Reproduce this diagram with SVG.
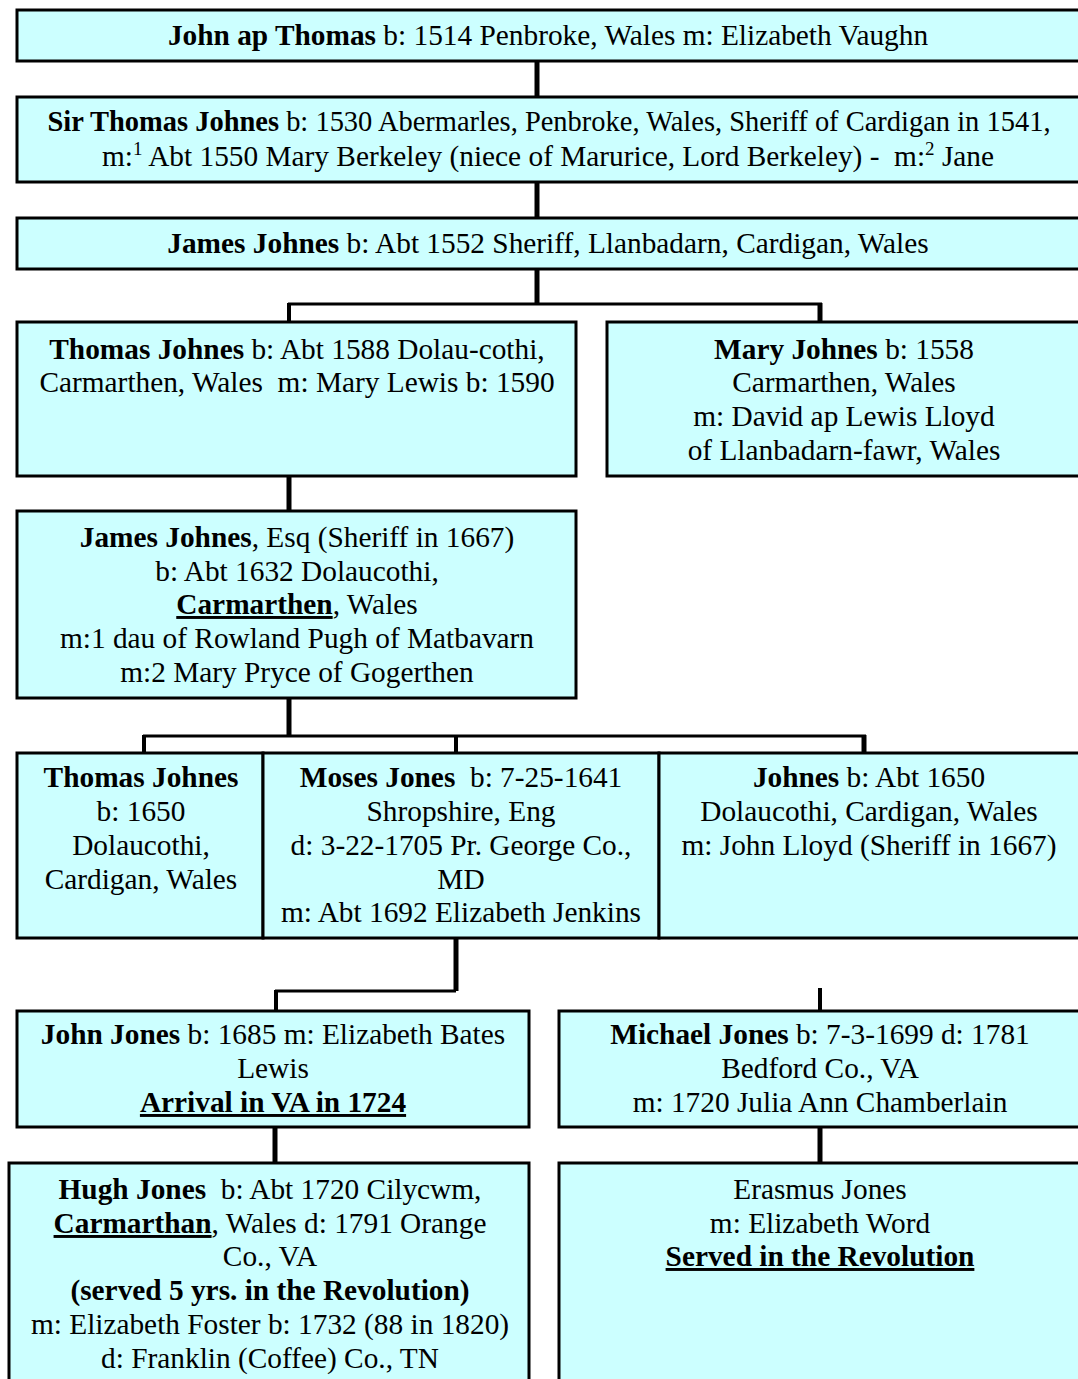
<svg xmlns="http://www.w3.org/2000/svg" width="1078" height="1379" viewBox="0 0 1078 1379">
<style>
.box{fill:#CCFFFF;stroke:#000;stroke-width:3}
text{font-family:"Liberation Serif","Times New Roman",serif;font-size:29.33px;fill:#000;text-anchor:middle}
.b{font-weight:bold}
.u{text-decoration:underline}
.c{fill:none;stroke:#000;stroke-linecap:butt;stroke-linejoin:miter}
.v{stroke-width:5}
.h{stroke-width:3}
.d{stroke-width:4}
</style>
<rect width="1078" height="1379" fill="#fff"/>
<g id="connectors">
<line class="c v" x1="537" y1="61" x2="537" y2="97"/>
<line class="c v" x1="537" y1="182" x2="537" y2="218"/>
<path class="c h" d="M288 304 H822"/>
<line class="c v" x1="537" y1="269" x2="537" y2="305"/>
<line class="c d" x1="289" y1="303" x2="289" y2="322"/>
<line class="c v" x1="820" y1="303" x2="820" y2="322"/>
<line class="c v" x1="289" y1="476" x2="289" y2="511"/>
<line class="c v" x1="289" y1="698" x2="289" y2="736"/>
<path class="c h" d="M143 736 H866"/>
<line class="c d" x1="144" y1="735" x2="144" y2="753"/>
<line class="c d" x1="456" y1="735" x2="456" y2="753"/>
<line class="c v" x1="864" y1="735" x2="864" y2="753"/>
<path class="c v" d="M456 938 V991"/>
<path class="c h" d="M456 991 H275"/>
<line class="c d" x1="276" y1="990" x2="276" y2="1011"/>
<line class="c d" x1="820" y1="988" x2="820" y2="1011"/>
<line class="c v" x1="275" y1="1127" x2="275" y2="1163"/>
<line class="c v" x1="820" y1="1127" x2="820" y2="1163"/>
</g>
<g id="john-ap-thomas">
<rect class="box" x="17" y="10" width="1064" height="51"/>
<text x="548" y="45"><tspan class="b">John ap Thomas</tspan> b: 1514 Penbroke, Wales m: Elizabeth Vaughn</text>
</g>
<g id="sir-thomas-johnes">
<rect class="box" x="17" y="97" width="1064" height="85"/>
<text x="549" y="131" textLength="1003" lengthAdjust="spacingAndGlyphs"><tspan class="b">Sir Thomas Johnes</tspan> b: 1530 Abermarles, Penbroke, Wales, Sheriff of Cardigan in 1541,</text>
<text x="548" y="166" xml:space="preserve">m:<tspan dy="-11" font-size="19">1</tspan><tspan dy="11"> Abt 1550 Mary Berkeley (niece of Marurice, Lord Berkeley) -  m:</tspan><tspan dy="-11" font-size="19">2</tspan><tspan dy="11"> Jane</tspan></text>
</g>
<g id="james-johnes">
<rect class="box" x="17" y="218" width="1064" height="51"/>
<text x="548" y="253"><tspan class="b">James Johnes</tspan> b: Abt 1552 Sheriff, Llanbadarn, Cardigan, Wales</text>
</g>
<g id="thomas-johnes-1588">
<rect class="box" x="17" y="322" width="559" height="154"/>
<text x="297" y="359"><tspan class="b">Thomas Johnes</tspan> b: Abt 1588 Dolau-cothi,</text>
<text x="297" y="392" xml:space="preserve">Carmarthen, Wales  m: Mary Lewis b: 1590</text>
</g>
<g id="mary-johnes">
<rect class="box" x="607" y="322" width="474" height="154"/>
<text x="844" y="359"><tspan class="b">Mary Johnes</tspan> b: 1558</text>
<text x="844" y="392">Carmarthen, Wales</text>
<text x="844" y="426">m: David ap Lewis Lloyd</text>
<text x="844" y="460">of Llanbadarn-fawr, Wales</text>
</g>
<g id="james-johnes-esq">
<rect class="box" x="17" y="511" width="559" height="187"/>
<text x="297" y="547"><tspan class="b">James Johnes</tspan>, Esq (Sheriff in 1667)</text>
<text x="297" y="581">b: Abt 1632 Dolaucothi,</text>
<text x="297" y="614"><tspan class="b u">Carmarthen</tspan>, Wales</text>
<text x="297" y="648">m:1 dau of Rowland Pugh of Matbavarn</text>
<text x="297" y="682">m:2 Mary Pryce of Gogerthen</text>
</g>
<g id="thomas-johnes-1650">
<rect class="box" x="17" y="753" width="246" height="185"/>
<text x="141" y="787" class="b">Thomas Johnes</text>
<text x="141" y="821">b: 1650</text>
<text x="141" y="855">Dolaucothi,</text>
<text x="141" y="889">Cardigan, Wales</text>
</g>
<g id="moses-jones">
<rect class="box" x="263" y="753" width="396" height="185"/>
<text x="461" y="787" xml:space="preserve"><tspan class="b">Moses Jones</tspan>  b: 7-25-1641</text>
<text x="461" y="821">Shropshire, Eng</text>
<text x="461" y="855">d: 3-22-1705 Pr. George Co.,</text>
<text x="461" y="889">MD</text>
<text x="461" y="922">m: Abt 1692 Elizabeth Jenkins</text>
</g>
<g id="johnes-1650">
<rect class="box" x="659" y="753" width="422" height="185"/>
<text x="869" y="787"><tspan class="b">Johnes</tspan> b: Abt 1650</text>
<text x="869" y="821">Dolaucothi, Cardigan, Wales</text>
<text x="869" y="855">m: John Lloyd (Sheriff in 1667)</text>
</g>
<g id="john-jones">
<rect class="box" x="17" y="1011" width="512" height="116"/>
<text x="273" y="1044"><tspan class="b">John Jones</tspan> b: 1685 m: Elizabeth Bates</text>
<text x="273" y="1078">Lewis</text>
<text x="273" y="1112" class="b u">Arrival in VA in 1724</text>
</g>
<g id="michael-jones">
<rect class="box" x="559" y="1011" width="522" height="116"/>
<text x="820" y="1044"><tspan class="b">Michael Jones</tspan> b: 7-3-1699 d: 1781</text>
<text x="820" y="1078">Bedford Co., VA</text>
<text x="820" y="1112">m: 1720 Julia Ann Chamberlain</text>
</g>
<g id="hugh-jones">
<rect class="box" x="9" y="1163" width="520" height="230"/>
<text x="270" y="1199" xml:space="preserve"><tspan class="b">Hugh Jones</tspan>  b: Abt 1720 Cilycwm,</text>
<text x="270" y="1233"><tspan class="b u">Carmarthan</tspan>, Wales d: 1791 Orange</text>
<text x="270" y="1266">Co., VA</text>
<text x="270" y="1300" class="b">(served 5 yrs. in the Revolution)</text>
<text x="270" y="1334">m: Elizabeth Foster b: 1732 (88 in 1820)</text>
<text x="270" y="1368">d: Franklin (Coffee) Co., TN</text>
</g>
<g id="erasmus-jones">
<rect class="box" x="559" y="1163" width="522" height="230"/>
<text x="820" y="1199">Erasmus Jones</text>
<text x="820" y="1233">m: Elizabeth Word</text>
<text x="820" y="1266" class="b u">Served in the Revolution</text>
</g>
</svg>
